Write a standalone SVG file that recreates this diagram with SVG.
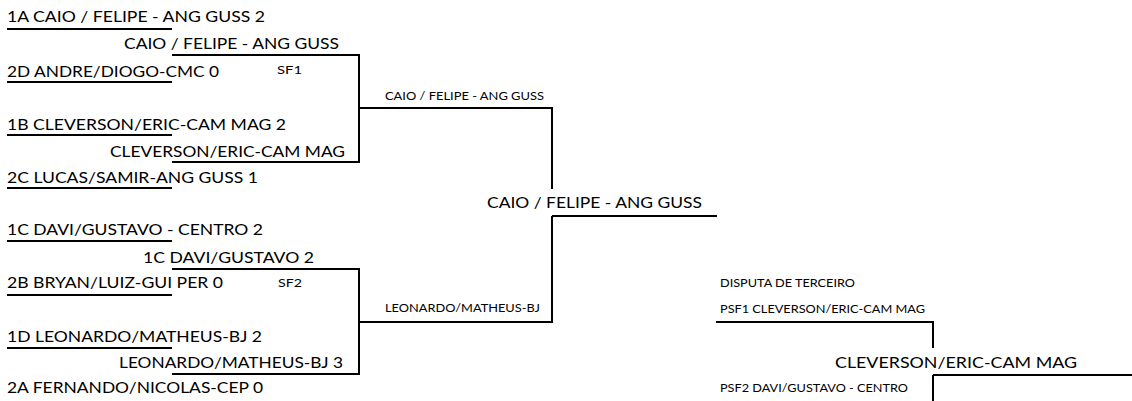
<svg xmlns="http://www.w3.org/2000/svg" width="1132" height="401" viewBox="0 0 1132 401">
<style>
.t{font-family:Lato,"Liberation Sans",sans-serif;font-size:15px;fill:#000}
.s{font-family:Lato,"Liberation Sans",sans-serif;font-size:11px;fill:#000}
.c{stroke:#000;stroke-width:2;fill:none}
</style>
<rect width="1132" height="401" fill="#fff"/>
<g id="connectors" class="c">
<path d="M7 29H172M7 82H172M7 135H172M7 188H172"/>
<path d="M172 55H359V162H172M359 108H552V189M552 216V322H359M552 216H717"/>
<path d="M7 241H172M7 295H172M7 348H172"/>
<path d="M172 269H359V374H172"/>
<path d="M716 322H933V348M933 375H1132M933 375V401"/>
</g>
<g id="n-1A"><text class="t" x="7" y="22" textLength="258" lengthAdjust="spacingAndGlyphs">1A CAIO / FELIPE - ANG GUSS 2</text></g>
<g id="n-sf1-top"><text class="t" x="124" y="49" textLength="215" lengthAdjust="spacingAndGlyphs">CAIO / FELIPE - ANG GUSS</text></g>
<g id="n-2D"><text class="t" x="7" y="77" textLength="212" lengthAdjust="spacingAndGlyphs">2D ANDRE/DIOGO-CMC 0</text></g>
<g id="n-sf1"><text class="s" x="277" y="74" textLength="25" lengthAdjust="spacingAndGlyphs">SF1</text></g>
<g id="n-1B"><text class="t" x="7" y="130" textLength="279" lengthAdjust="spacingAndGlyphs">1B CLEVERSON/ERIC-CAM MAG 2</text></g>
<g id="n-sf1-bot"><text class="t" x="110" y="157" textLength="235" lengthAdjust="spacingAndGlyphs">CLEVERSON/ERIC-CAM MAG</text></g>
<g id="n-2C"><text class="t" x="7" y="183" textLength="251" lengthAdjust="spacingAndGlyphs">2C LUCAS/SAMIR-ANG GUSS 1</text></g>
<g id="n-1C"><text class="t" x="7" y="235" textLength="256" lengthAdjust="spacingAndGlyphs">1C DAVI/GUSTAVO - CENTRO 2</text></g>
<g id="n-sf2-top"><text class="t" x="143" y="263" textLength="171" lengthAdjust="spacingAndGlyphs">1C DAVI/GUSTAVO 2</text></g>
<g id="n-2B"><text class="t" x="7" y="288" textLength="216" lengthAdjust="spacingAndGlyphs">2B BRYAN/LUIZ-GUI PER 0</text></g>
<g id="n-sf2"><text class="s" x="278" y="287" textLength="24" lengthAdjust="spacingAndGlyphs">SF2</text></g>
<g id="n-1D"><text class="t" x="7" y="342" textLength="255" lengthAdjust="spacingAndGlyphs">1D LEONARDO/MATHEUS-BJ 2</text></g>
<g id="n-sf2-bot"><text class="t" x="119" y="368" textLength="224" lengthAdjust="spacingAndGlyphs">LEONARDO/MATHEUS-BJ 3</text></g>
<g id="n-2A"><text class="t" x="7" y="393" textLength="256" lengthAdjust="spacingAndGlyphs">2A FERNANDO/NICOLAS-CEP 0</text></g>
<g id="n-final-top"><text class="s" x="385" y="100" textLength="159" lengthAdjust="spacingAndGlyphs">CAIO / FELIPE - ANG GUSS</text></g>
<g id="n-final-bot"><text class="s" x="385" y="312" textLength="155" lengthAdjust="spacingAndGlyphs">LEONARDO/MATHEUS-BJ</text></g>
<g id="n-champion"><text class="t" x="487" y="208" textLength="215" lengthAdjust="spacingAndGlyphs">CAIO / FELIPE - ANG GUSS</text></g>
<g id="n-third-title"><text class="s" x="720" y="287" textLength="135" lengthAdjust="spacingAndGlyphs">DISPUTA DE TERCEIRO</text></g>
<g id="n-psf1"><text class="s" x="720" y="313" textLength="205" lengthAdjust="spacingAndGlyphs">PSF1 CLEVERSON/ERIC-CAM MAG</text></g>
<g id="n-third"><text class="t" x="835" y="368" textLength="242" lengthAdjust="spacingAndGlyphs">CLEVERSON/ERIC-CAM MAG</text></g>
<g id="n-psf2"><text class="s" x="720" y="392" textLength="188" lengthAdjust="spacingAndGlyphs">PSF2 DAVI/GUSTAVO - CENTRO</text></g>
</svg>
